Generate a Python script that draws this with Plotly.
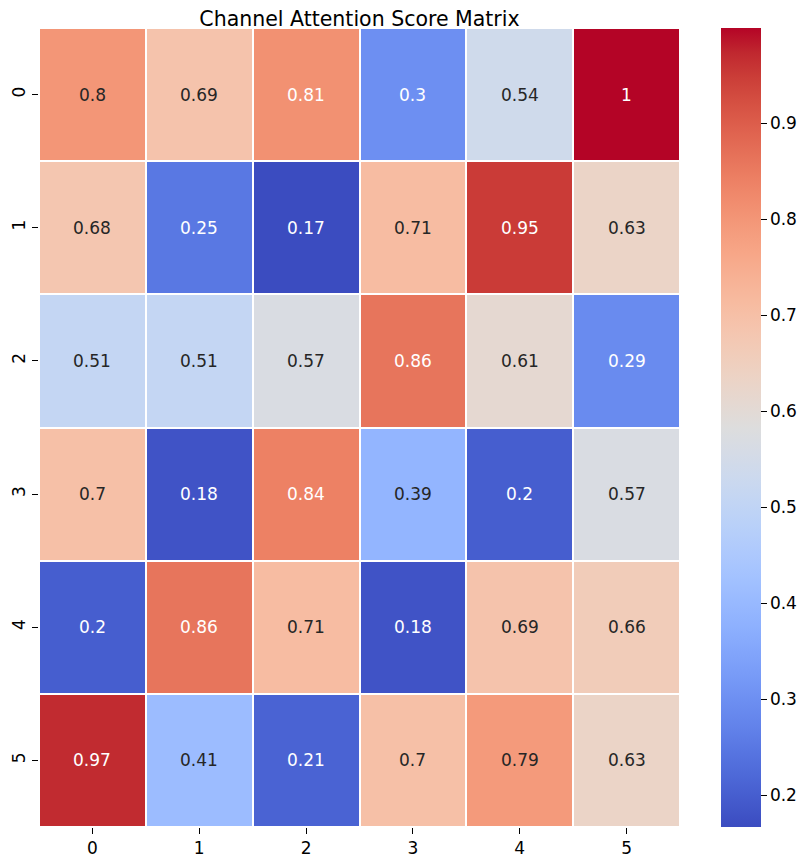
import plotly.graph_objects as go

# Valeurs de la matrice d'attention (lignes 0..5, colonnes 0..5)
row_labels = ["0", "1", "2", "3", "4", "5"]
col_labels = ["0", "1", "2", "3", "4", "5"]
scores = [
    [0.80, 0.69, 0.81, 0.30, 0.54, 0.999],
    [0.68, 0.25, 0.167, 0.71, 0.95, 0.63],
    [0.51, 0.51, 0.57, 0.86, 0.61, 0.29],
    [0.70, 0.18, 0.84, 0.39, 0.20, 0.57],
    [0.20, 0.86, 0.71, 0.18, 0.69, 0.66],
    [0.97, 0.41, 0.21, 0.70, 0.79, 0.63],
]
cbar_ticks = [0.2, 0.3, 0.4, 0.5, 0.6, 0.7, 0.8, 0.9]

# palette coolwarm (matplotlib)
cw = [
    (59, 76, 192), (68, 90, 204), (77, 104, 215), (87, 117, 225), (98, 130, 234),
    (108, 142, 241), (119, 154, 247), (130, 165, 251), (141, 176, 254), (152, 185, 255),
    (163, 194, 255), (174, 201, 253), (184, 208, 249), (194, 213, 244), (204, 217, 238),
    (213, 219, 230), (221, 221, 221), (229, 216, 209), (236, 211, 197), (241, 204, 185),
    (245, 196, 173), (247, 187, 160), (247, 177, 148), (247, 166, 135), (244, 154, 123),
    (241, 141, 111), (236, 127, 99), (229, 112, 88), (222, 96, 77), (213, 80, 66),
    (203, 62, 56), (192, 40, 47), (180, 4, 38),
]
coolwarm = [[i / (len(cw) - 1), "rgb(%d,%d,%d)" % c] for i, c in enumerate(cw)]

font = "DejaVu Sans"
# la page ajoute 8 px de marge autour de la figure
W, H = 801, 852
ml, mr, mt, mb = 31, 129, 20, 33
plot_w = W - ml - mr

fig = go.Figure()
fig.add_trace(go.Heatmap(
    z=scores, x=col_labels, y=row_labels,
    colorscale=coolwarm, xgap=2, ygap=2,
    colorbar=dict(
        x=(713.5 - ml) / plot_w, xanchor="left", thickness=40, len=1, lenmode="fraction",
        y=0.5, yanchor="middle", xpad=0, ypad=0, outlinewidth=0,
        tickvals=cbar_ticks, ticks="outside", ticklen=6, tickcolor="black",
        tickfont=dict(family=font, size=17, color="black"),
    ),
    hoverinfo="skip",
))

# annotations des cellules
for i, row in enumerate(scores):
    for j, v in enumerate(row):
        col = "white" if (v <= 0.3 or v > 0.805) else "#262626"
        fig.add_annotation(x=col_labels[j], y=row_labels[i], text="{:.2g}".format(v),
                           showarrow=False, font=dict(family=font, size=17, color=col))

fig.update_layout(
    width=W, height=H,
    margin=dict(l=ml, r=mr, t=mt, b=mb, autoexpand=False),
    paper_bgcolor="white", plot_bgcolor="white",
    title=dict(text="Channel Attention Score Matrix", x=(ml + plot_w / 2) / W, xanchor="center",
               y=1 - 11 / H, yanchor="middle", yref="container",
               font=dict(family=font, size=20.5, color="black")),
    font=dict(family=font, color="black"),
)
fig.update_xaxes(type="category", range=[-0.5, 5.5], showgrid=False, zeroline=False,
                 automargin=False, ticks="outside", ticklen=6, tickcolor="black",
                 tickfont=dict(family=font, size=17, color="black"))
fig.update_yaxes(type="category", range=[5.5, -0.5], showgrid=False, zeroline=False,
                 automargin=False, ticks="outside", ticklen=6, tickcolor="black", tickangle=-90,
                 tickfont=dict(family=font, size=17, color="black"))

fig.write_html("out.html")
